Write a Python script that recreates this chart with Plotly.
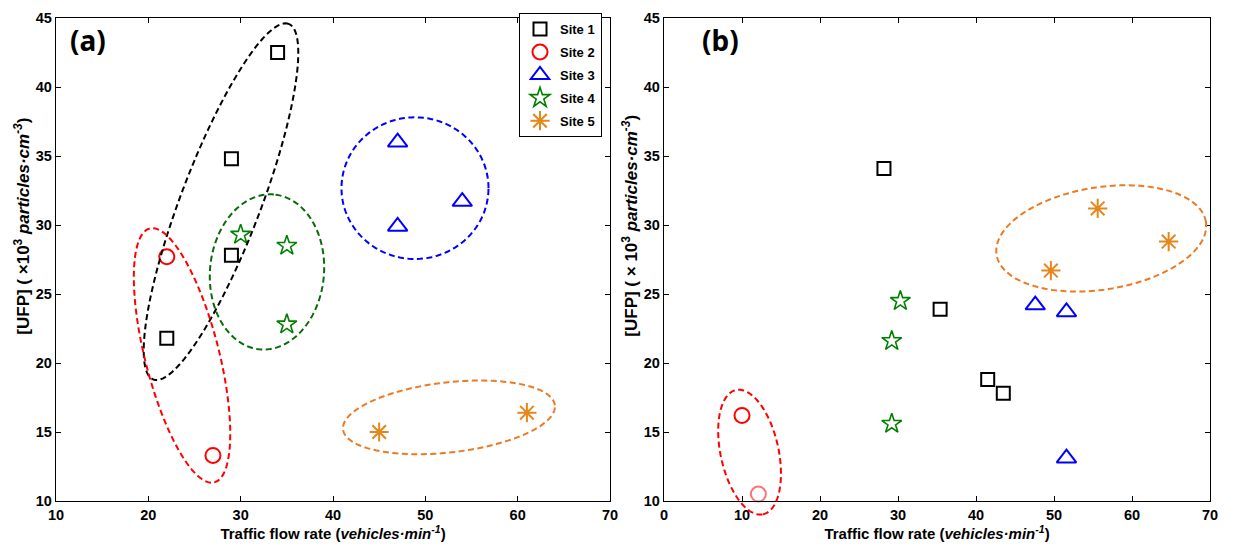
import numpy as np
import plotly.graph_objects as go

# ---------------- data ----------------
sites = ["Site 1", "Site 2", "Site 3", "Site 4", "Site 5"]

# panel (a)
a_site1_x = [34, 29, 29, 22]
a_site1_y = [42.5, 34.8, 27.8, 21.8]
a_site2_x = [22, 27]
a_site2_y = [27.7, 13.3]
a_site3_x = [47, 47, 54]
a_site3_y = [36.0, 29.9, 31.7]
a_site4_x = [30, 35, 35]
a_site4_y = [29.3, 28.5, 22.8]
a_site5_x = [45, 61]
a_site5_y = [15.0, 16.4]

# panel (b)
b_site1_x = [28.2, 35.4, 41.5, 43.5]
b_site1_y = [34.1, 23.9, 18.8, 17.8]
b_site2_x = [10.0, 12.1]
b_site2_y = [16.2, 10.5]
b_site3_x = [47.6, 51.6, 51.6]
b_site3_y = [24.2, 23.7, 13.1]
b_site4_x = [30.3, 29.2, 29.2]
b_site4_y = [24.5, 21.6, 15.6]
b_site5_x = [49.6, 55.6, 64.7]
b_site5_y = [26.7, 31.2, 28.8]

x_ticks_a = [10, 20, 30, 40, 50, 60, 70]
x_ticks_b = [0, 10, 20, 30, 40, 50, 60, 70]
y_ticks = [10, 15, 20, 25, 30, 35, 40, 45]

# ---------------- styling ----------------
colors = ["#000000", "#ff0000", "#0000ff", "#008000", "#e4871c"]
symbols = ["square-open", "circle-open", "triangle-up-open", "star-open", "asterisk-open"]
sizes = [13, 15, 17, 15, 16]
ring_colors = ["#000000", "#ff0000", "#0000ff", "#0a6a0a", "#ec7a22"]

W, H = 1235, 549
M_L, M_R, M_T, M_B = 56, 25, 10, 48
PW = W - M_L - M_R
PH = H - M_T - M_B
XDOM_A = [0, 554 / PW]
XDOM_B = [608 / PW, 1]
XR_A = [10, 70]
XR_B = [0, 70]
YR = [10, 45]

FONT = "Liberation Sans, Arial, sans-serif"

fig = go.Figure()

panel_a = [(a_site1_x, a_site1_y), (a_site2_x, a_site2_y), (a_site3_x, a_site3_y),
           (a_site4_x, a_site4_y), (a_site5_x, a_site5_y)]
panel_b = [(b_site1_x, b_site1_y), (b_site2_x, b_site2_y), (b_site3_x, b_site3_y),
           (b_site4_x, b_site4_y), (b_site5_x, b_site5_y)]

for i, name in enumerate(sites):
    xs, ys = panel_a[i]
    fig.add_trace(go.Scatter(
        x=xs, y=ys, mode="markers", name=name, legendgroup=name,
        marker=dict(symbol=symbols[i], size=sizes[i], color=colors[i],
                    line=dict(width=2 if i != 3 else 1.6, color=colors[i])),
        xaxis="x", yaxis="y", cliponaxis=False))
for i, name in enumerate(sites):
    xs, ys = panel_b[i]
    op = [1.0, 0.55] if i == 1 else 1.0
    fig.add_trace(go.Scatter(
        x=xs, y=ys, mode="markers", name=name, legendgroup=name, showlegend=False,
        marker=dict(symbol=symbols[i], size=sizes[i], color=colors[i], opacity=op,
                    line=dict(width=2 if i != 3 else 1.6, color=colors[i])),
        xaxis="x2", yaxis="y2", cliponaxis=False))


def to_paper(x, y, xr, xdom):
    px = xdom[0] + (x - xr[0]) / (xr[1] - xr[0]) * (xdom[1] - xdom[0])
    py = (y - YR[0]) / (YR[1] - YR[0])
    return px, py


def ellipse_path(cx, cy, a, b, ang, xr, xdom, n=160):
    """Ellipse centred on a data point; semi-axes a, b in screen pixels, tilt in degrees."""
    pcx, pcy = to_paper(cx, cy, xr, xdom)
    t = np.linspace(0, 2 * np.pi, n)
    th = np.radians(ang)
    dx = a * np.cos(th) * np.cos(t) - b * np.sin(th) * np.sin(t)
    dy = a * np.sin(th) * np.cos(t) + b * np.cos(th) * np.sin(t)
    xs = pcx + dx / PW
    ys = pcy + dy / PH
    return "M " + " L ".join(f"{x:.5f},{y:.5f}" for x, y in zip(xs, ys)) + " Z"


# cluster outlines: (centre x, centre y, semi-major px, semi-minor px, tilt deg, colour index)
rings_a = [
    (27.87, 31.69, 193, 40, 69.5, 0),
    (23.65, 20.55, 133, 37, -76, 1),
    (48.88, 32.67, 73.5, 72, 0, 2),
    (32.85, 26.60, 79, 57, 85, 3),
    (52.56, 16.06, 106.6, 35.6, 6.65, 4),
]
rings_b = [
    (10.97, 13.54, 64.6, 29, -78, 1),
    (56.06, 29.03, 106, 52, 9.1, 4),
]

shapes = []
for cx, cy, a, b, ang, ci in rings_a:
    shapes.append(dict(type="path", xref="paper", yref="paper",
                       path=ellipse_path(cx, cy, a, b, ang, XR_A, XDOM_A),
                       line=dict(color=ring_colors[ci], width=2, dash="6px,3.5px")))
for cx, cy, a, b, ang, ci in rings_b:
    shapes.append(dict(type="path", xref="paper", yref="paper",
                       path=ellipse_path(cx, cy, a, b, ang, XR_B, XDOM_B),
                       line=dict(color=ring_colors[ci], width=2, dash="6px,3.5px")))

axis_common = dict(showline=True, linecolor="black", linewidth=1.3, mirror="ticks",
                   ticks="inside", ticklen=5, tickwidth=1, tickcolor="black",
                   showgrid=False, zeroline=False,
                   tickfont=dict(family=FONT, size=14.5, color="black", weight="bold"))

xtitle = "Traffic flow rate (<i>vehicles·min<sup>-1</sup></i>)"
title_font = dict(family=FONT, size=15, weight="bold")
ytitle_font = dict(family=FONT, size=17, color="black", weight="bold")
fig.update_layout(
    width=W, height=H,
    margin=dict(l=M_L, r=M_R, t=M_T, b=M_B),
    plot_bgcolor="white", paper_bgcolor="white",
    font=dict(family=FONT, color="black"),
    shapes=shapes,
    xaxis=dict(domain=XDOM_A, range=XR_A, tickvals=x_ticks_a, anchor="y",
               title=dict(text=xtitle, font=title_font, standoff=4),
               **axis_common),
    yaxis=dict(domain=[0, 1], range=YR, tickvals=y_ticks, anchor="x", **axis_common),
    xaxis2=dict(domain=XDOM_B, range=XR_B, tickvals=x_ticks_b, anchor="y2",
                title=dict(text=xtitle, font=title_font, standoff=4),
                **axis_common),
    yaxis2=dict(domain=[0, 1], range=YR, tickvals=y_ticks, anchor="x2", **axis_common),
    legend=dict(x=(602 - M_L) / PW, xanchor="right", y=1.01, yanchor="top",
                bgcolor="white", bordercolor="black", borderwidth=1,
                font=dict(family=FONT, size=13, color="black", weight="bold"),
                tracegroupgap=3, itemwidth=30),
    annotations=[
        dict(text="<b>(a)</b>", xref="x domain", yref="y domain", x=0.058, y=0.955,
             xanchor="center", yanchor="middle",
             showarrow=False, font=dict(family="Noto Sans", size=28, color="black")),
        dict(text="<b>(b)</b>", xref="x2 domain", yref="y2 domain", x=0.103, y=0.955,
             xanchor="center", yanchor="middle",
             showarrow=False, font=dict(family="Noto Sans", size=28, color="black")),
        # vertical axis titles
        dict(text="[UFP] ( ×10<sup>3</sup> <i>particles·cm<sup>-3</sup></i>)",
             xref="x domain", yref="y domain", x=-0.0614, y=0.57,
             xanchor="center", yanchor="middle", textangle=-90,
             showarrow=False, font=ytitle_font),
        dict(text="[UFP] ( × 10<sup>3</sup> <i>particles·cm<sup>-3</sup></i>)",
             xref="x2 domain", yref="y2 domain", x=-0.0623, y=0.57,
             xanchor="center", yanchor="middle", textangle=-90,
             showarrow=False, font=ytitle_font),
    ],
)

fig.write_html("out.html")
